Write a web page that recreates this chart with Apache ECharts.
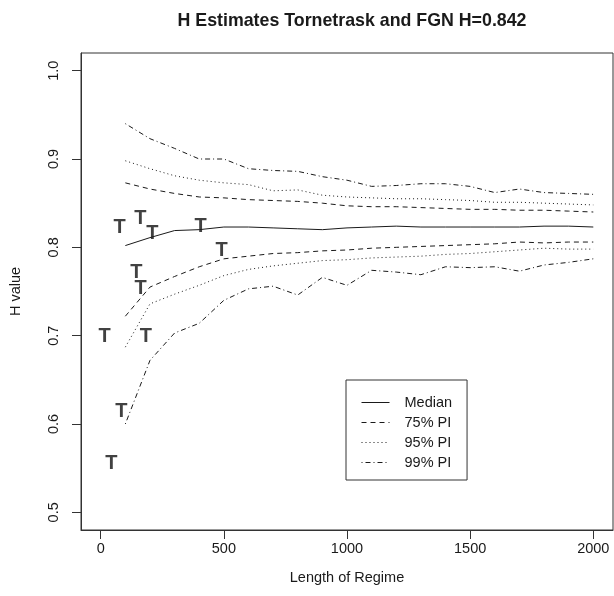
<!DOCTYPE html>
<html>
<head>
<meta charset="utf-8">
<script src="https://cdn.jsdelivr.net/npm/echarts@6/dist/echarts.min.js"></script>
<style>html,body{margin:0;padding:0;background:#fff}#c{width:614px;height:596px}</style>
</head>
<body>
<div id="c"></div>
<script>
var lengths = [100,200,300,400,500,600,700,800,900,1000,1100,1200,1300,1400,1500,1600,1700,1800,1900,2000];
var median = [0.802,0.811,0.819,0.820,0.823,0.823,0.822,0.821,0.820,0.822,0.823,0.824,0.823,0.823,0.823,0.823,0.823,0.824,0.824,0.823];
var lo75 = [0.722,0.755,0.767,0.778,0.787,0.790,0.793,0.794,0.796,0.797,0.799,0.800,0.801,0.802,0.803,0.804,0.806,0.805,0.806,0.806];
var hi75 = [0.873,0.866,0.861,0.857,0.856,0.854,0.853,0.852,0.850,0.847,0.846,0.846,0.845,0.844,0.843,0.843,0.842,0.842,0.841,0.840];
var lo95 = [0.687,0.736,0.747,0.757,0.768,0.775,0.779,0.782,0.785,0.786,0.788,0.789,0.790,0.792,0.793,0.795,0.797,0.799,0.798,0.798];
var hi95 = [0.898,0.889,0.881,0.876,0.873,0.871,0.864,0.865,0.859,0.857,0.856,0.855,0.855,0.854,0.853,0.851,0.851,0.850,0.849,0.848];
var lo99 = [0.600,0.672,0.703,0.714,0.740,0.753,0.756,0.746,0.766,0.757,0.774,0.772,0.769,0.778,0.777,0.778,0.773,0.780,0.783,0.787];
var hi99 = [0.940,0.923,0.912,0.900,0.900,0.889,0.887,0.886,0.880,0.876,0.869,0.870,0.872,0.872,0.869,0.862,0.866,0.862,0.861,0.860];
var tX = [77,161,210,406,491,145,162,16,183,84,43];
var tY = [0.823,0.833,0.816,0.824,0.796,0.771,0.753,0.699,0.699,0.614,0.555];
var xTicks = [0,500,1000,1500,2000];
var yTicks = [0.5,0.6,0.7,0.8,0.9,1.0];
var legendNames = ['Median','75% PI','95% PI','99% PI'];

function pairs(xs, ys){ return xs.map(function(x,i){ return [x, ys[i]]; }); }
var FONT = '"Liberation Sans", Arial, Helvetica, sans-serif';
var INK = '#1a1a1a';

function lineSeries(name, ys, dash){
  return {
    type: 'line', name: name, data: pairs(lengths, ys),
    symbol: 'none', silent: true, animation: false,
    lineStyle: {color: INK, width: 1, type: dash},
    itemStyle: {color: 'rgba(0,0,0,0)', borderColor: 'rgba(0,0,0,0)'}
  };
}

var chart = echarts.init(document.getElementById('c'), null, {renderer: 'canvas'});
chart.setOption({
  animation: false,
  backgroundColor: '#fff',
  textStyle: {fontFamily: FONT},
  title: {
    text: 'H Estimates Tornetrask and FGN H=0.842',
    left: 347, top: 7, textAlign: 'center',
    textStyle: {fontFamily: FONT, fontWeight: 'bold', fontSize: 17.8, color: INK}
  },
  grid: {left: 81, right: 1, top: 53, bottom: 66, show: true, borderColor: '#333', borderWidth: 1, backgroundColor: 'transparent'},
  legend: {
    data: legendNames,
    orient: 'vertical', left: 346, top: 380,
    itemWidth: 28, itemHeight: 14, itemGap: 5,
    padding: [15, 15, 10, 15],
    borderColor: '#333', borderWidth: 1,
    selectedMode: false,
    itemStyle: {opacity: 0},
    lineStyle: {width: 1},
    textStyle: {fontFamily: FONT, fontSize: 14.5, color: INK, padding: [0,0,0,10]}
  },
  xAxis: {
    type: 'value', min: -80, max: 2080,
    name: 'Length of Regime', nameLocation: 'middle', nameGap: 40,
    nameTextStyle: {fontFamily: FONT, fontSize: 14.5, color: INK},
    axisLine: {show: true, onZero: false, lineStyle: {color: '#333'}},
    axisTick: {show: true, length: 9, customValues: xTicks, lineStyle: {color: '#333'}},
    axisLabel: {customValues: xTicks, margin: 11, fontFamily: FONT, fontSize: 14.5, color: INK,
      formatter: function(v){ return String(v); }},
    splitLine: {show: false}
  },
  yAxis: {
    type: 'value', min: 0.48, max: 1.02,
    name: 'H value', nameLocation: 'middle', nameGap: 58,
    nameTextStyle: {fontFamily: FONT, fontSize: 14.5, color: INK},
    axisLine: {show: true, onZero: false, lineStyle: {color: '#333'}},
    axisTick: {show: true, length: 9, customValues: yTicks, lineStyle: {color: '#333'}},
    axisLabel: {customValues: yTicks, rotate: 90, margin: 20, fontFamily: FONT, fontSize: 14.5, color: INK,
      formatter: function(v){ return v.toFixed(1); }},
    splitLine: {show: false}
  },
  series: [
    lineSeries('Median', median, 'solid'),
    lineSeries('75% PI', lo75, [5,4]),
    lineSeries('75% PI', hi75, [5,4]),
    lineSeries('95% PI', lo95, [1,3]),
    lineSeries('95% PI', hi95, [1,3]),
    lineSeries('99% PI', lo99, [1,3,5,3]),
    lineSeries('99% PI', hi99, [1,3,5,3]),
    {
      type: 'scatter', name: 'T', data: pairs(tX, tY),
      symbol: 'circle', symbolSize: 1, silent: true,
      itemStyle: {color: 'rgba(0,0,0,0)'},
      label: {show: true, position: 'inside', formatter: 'T', fontFamily: FONT, fontSize: 20, fontWeight: 'bold', color: '#111'}
    }
  ]
});
</script>
</body>
</html>
